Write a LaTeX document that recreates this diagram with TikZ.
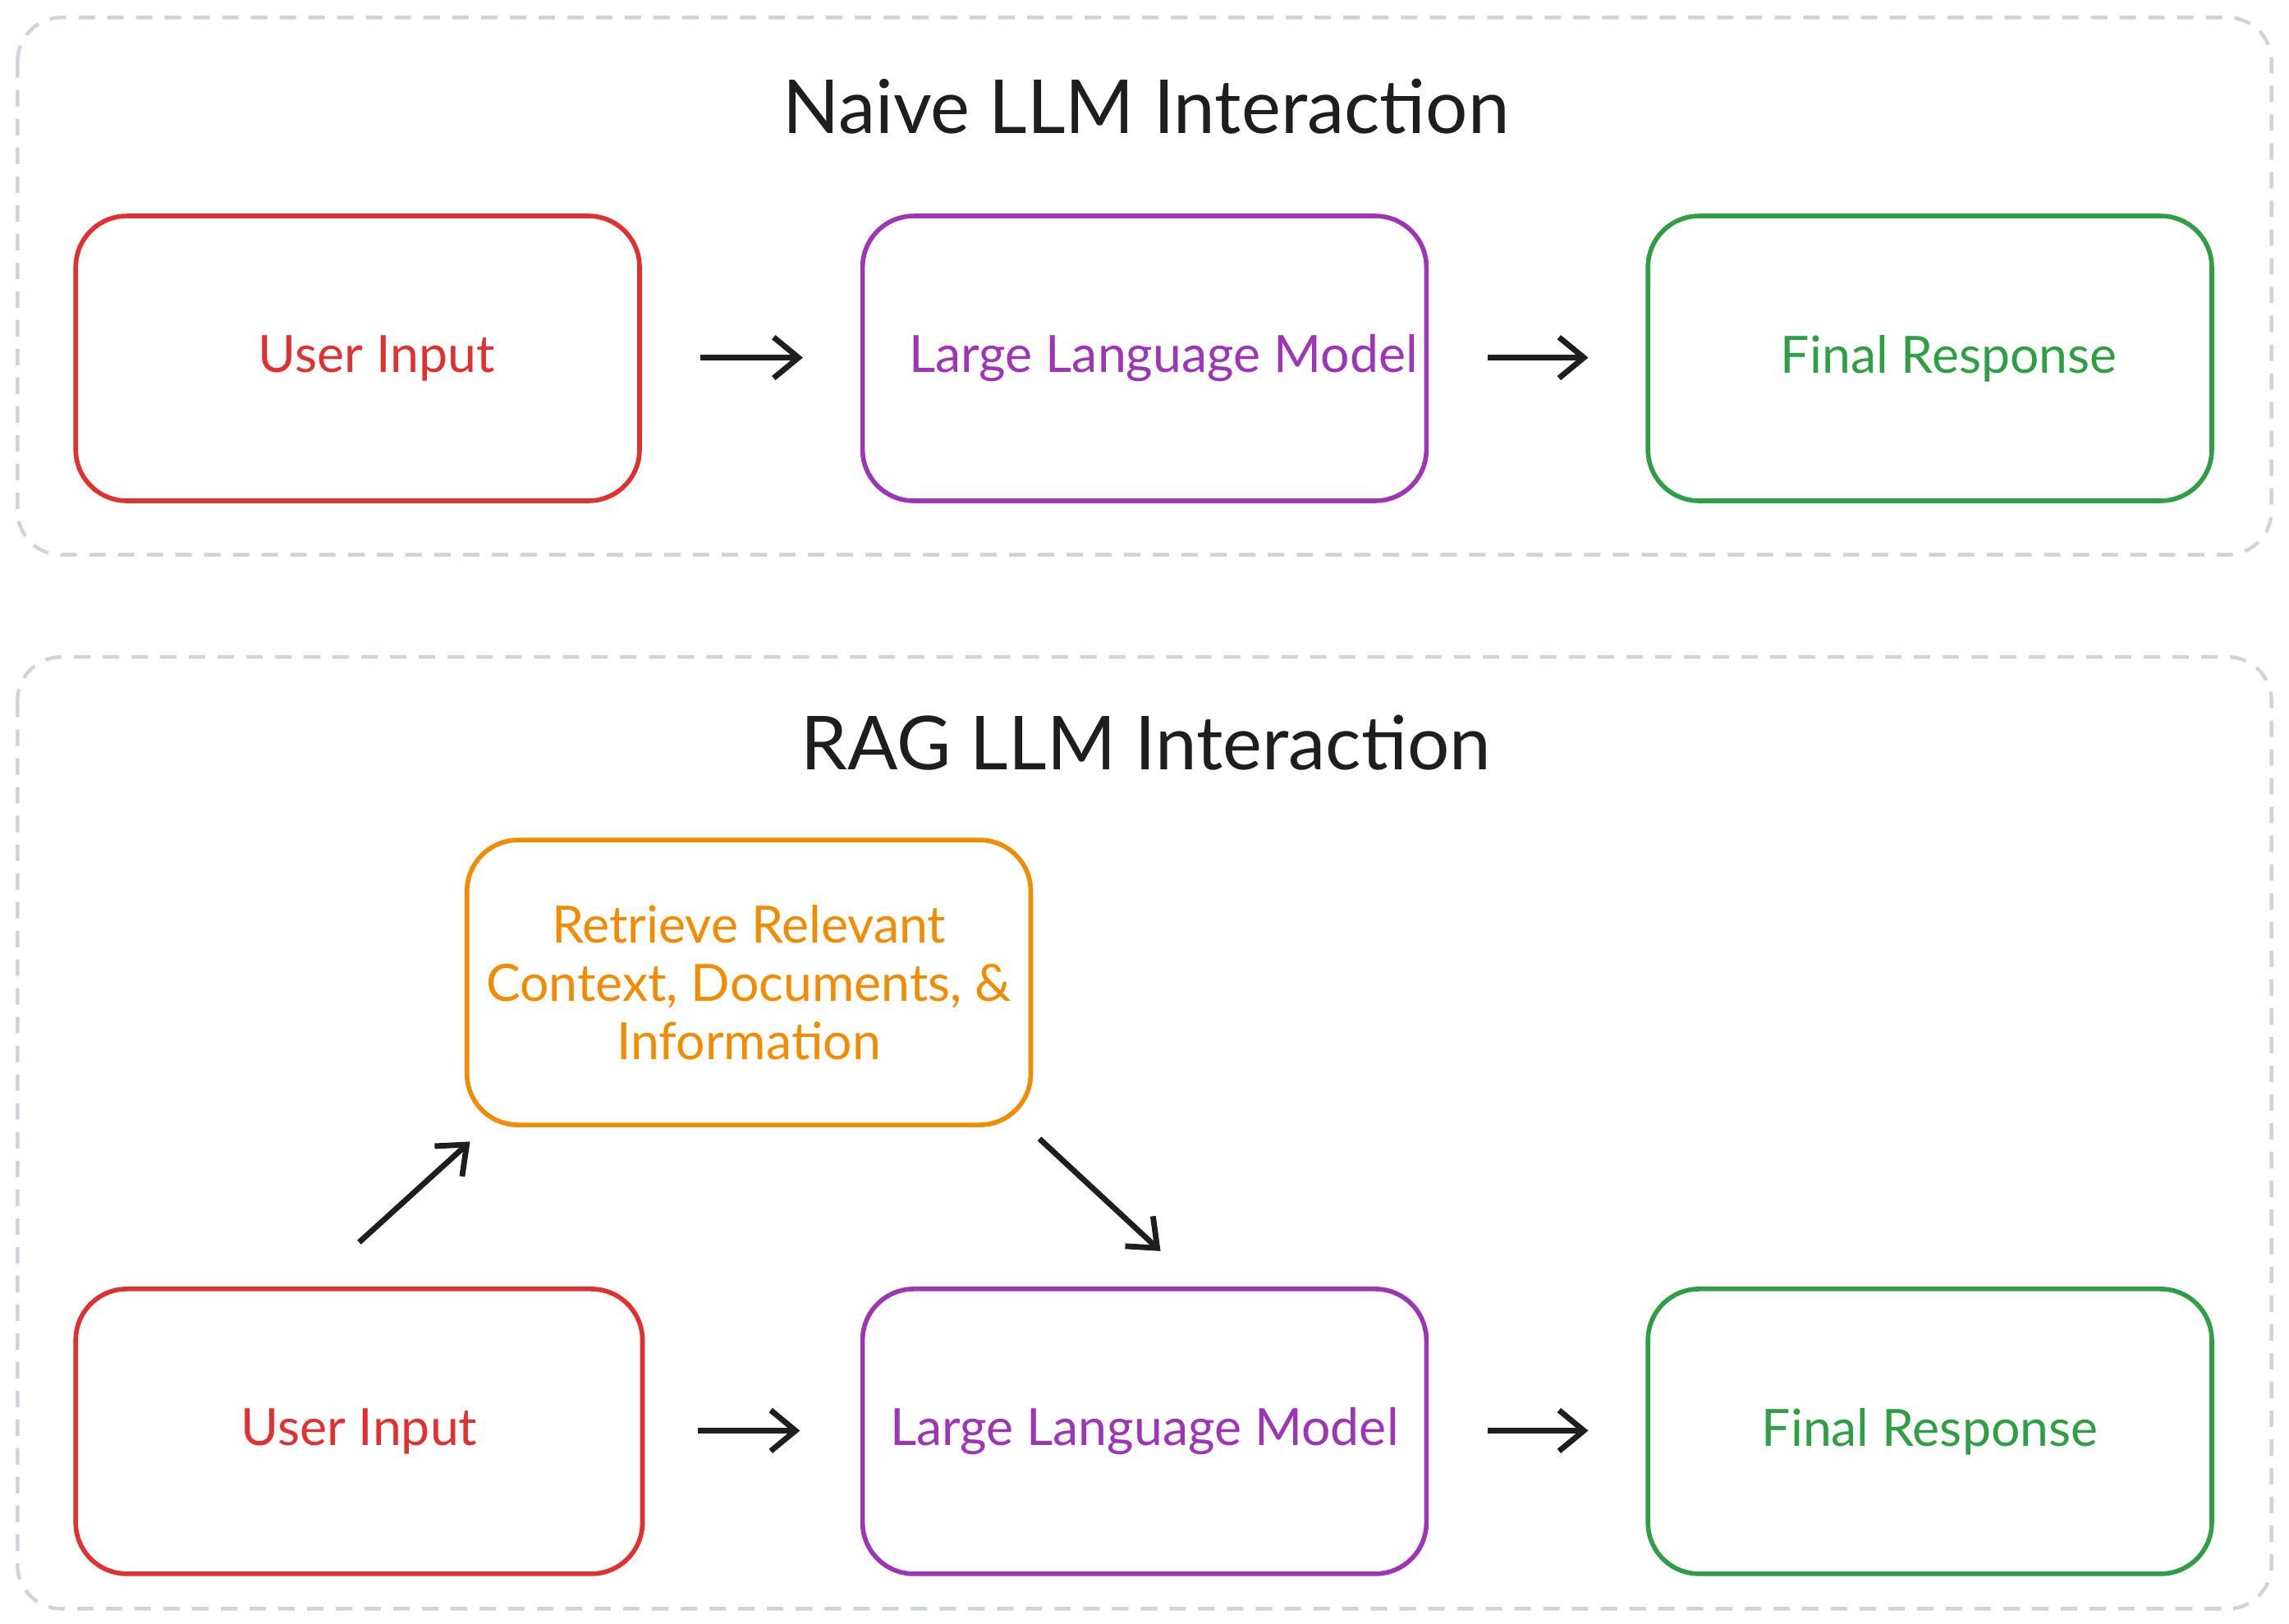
\documentclass[tikz,border=0pt]{standalone}
\usepackage{fontspec}
\setmainfont{Lato}
\usetikzlibrary{arrows.meta}
\definecolor{cred}{HTML}{E03131}
\definecolor{cpurple}{HTML}{9C36B5}
\definecolor{cgreen}{HTML}{2F9E44}
\definecolor{corange}{HTML}{F08C00}
\definecolor{cgray}{HTML}{CED4DA}
\definecolor{cink}{HTML}{1E1E1E}
\tikzset{
  container/.style={draw=cgray, line width=0.7pt, dash pattern=on 3.2pt off 2.4pt, rounded corners=0.3cm},
  stepbox/.style={draw=#1, text=#1, line width=0.9pt, rounded corners=0.35cm, minimum width=3.86cm, minimum height=1.95cm, inner sep=0pt, align=center, font=\fontsize{10}{11.3}\selectfont},
  titletext/.style={text=cink, font=\fontsize{14.5}{17}\selectfont},
  flow/.style={draw=cink, line width=1.1pt, -{Straight Barb[length=0.17cm, width=0.28cm, line width=1.1pt]}},
}
\begin{document}
\begin{tikzpicture}[x=0.01cm, y=-0.01cm]
\useasboundingbox (0,0) rectangle (1568,1112);
% containers
\draw[container] (12,12) rectangle (1556,380);
\draw[container] (12,450) rectangle (1556,1102);
% titles
\node[titletext] (t1) at (785,73) {Naive LLM Interaction};
\node[titletext] (t2) at (785,509) {RAG LLM Interaction};
% top row
\node[stepbox=cred] (u1) at (245,245.5) {\hspace*{0.26cm}User Input};
\node[stepbox=cpurple] (m1) at (784,245.5) {\hspace*{0.26cm}Large Language Model};
\node[stepbox=cgreen] (f1) at (1322,245.5) {\hspace*{0.26cm}Final Response};
\coordinate (a1s) at (480,245);
\coordinate (a1e) at (550,245);
\coordinate (a2s) at (1019,245);
\coordinate (a2e) at (1088,245);
\draw[flow] (a1s) -- (a1e);
\draw[flow] (a2s) -- (a2e);
% bottom
\node[stepbox=corange] (r) at (513,673) {Retrieve Relevant\\Context, Documents, \&\\Information};
\node[stepbox=cred, minimum width=3.88cm] (u2) at (246,980.5) {User Input};
\node[stepbox=cpurple] (m2) at (784,980.5) {Large Language Model};
\node[stepbox=cgreen] (f2) at (1322,980.5) {Final Response};
\coordinate (b1s) at (246,851);
\coordinate (b1e) at (322,782);
\coordinate (b2s) at (712,780);
\coordinate (b2e) at (795,857);
\coordinate (b3s) at (478,980);
\coordinate (b3e) at (548,980);
\coordinate (b4s) at (1019,980);
\coordinate (b4e) at (1088,980);
\draw[flow] (b1s) -- (b1e);
\draw[flow] (b2s) -- (b2e);
\draw[flow] (b3s) -- (b3e);
\draw[flow] (b4s) -- (b4e);
\end{tikzpicture}
\end{document}
